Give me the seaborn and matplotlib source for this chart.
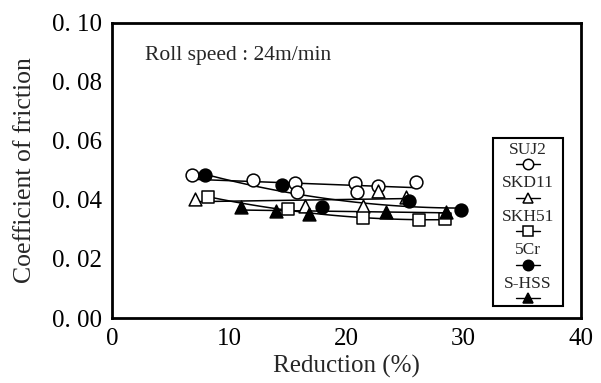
import matplotlib
matplotlib.use("Agg")
import matplotlib.pyplot as plt
import matplotlib.patches as mpatches
from matplotlib.lines import Line2D
import pandas as pd
import seaborn as sns

# Friction coefficient vs. reduction for each roll material
suj2_x = [6.8, 12.0, 15.6, 15.8, 20.7, 20.9, 22.7, 25.9]
suj2_y = [0.0485, 0.0467, 0.0458, 0.0428, 0.0458, 0.0427, 0.0449, 0.0462]

skd11_x = [7.1, 16.5, 21.4, 22.7, 25.1]
skd11_y = [0.0405, 0.0380, 0.0378, 0.0432, 0.0410]

skh51_x = [8.2, 15.0, 21.4, 26.2, 28.4]
skh51_y = [0.0410, 0.0368, 0.0338, 0.0332, 0.0335]

cr5_x = [7.9, 14.5, 17.9, 25.3, 29.8]
cr5_y = [0.0485, 0.0451, 0.0377, 0.0395, 0.0366]

shss_x = [11.0, 14.0, 16.8, 23.4, 28.5]
shss_y = [0.0375, 0.0362, 0.0352, 0.0360, 0.0360]

series_names = ["SUJ2", "SKD11", "SKH51", "5Cr", "S-HSS"]
x_ticks = [0, 10, 20, 30, 40]
y_ticks = [0.00, 0.02, 0.04, 0.06, 0.08, 0.10]
y_tick_labels = ["0. 00", "0. 02", "0. 04", "0. 06", "0. 08", "0. 10"]
note = "Roll speed : 24m/min"

sns.set_style("white")
plt.rcParams["font.family"] = ["Liberation Serif", "DejaVu Serif"]

styles = {
    "SUJ2": dict(marker="o", face="white"),
    "SKD11": dict(marker="^", face="white"),
    "SKH51": dict(marker="s", face="white"),
    "5Cr": dict(marker="o", face="black"),
    "S-HSS": dict(marker="^", face="black"),
}
data = {
    "SUJ2": (suj2_x, suj2_y),
    "SKD11": (skd11_x, skd11_y),
    "SKH51": (skh51_x, skh51_y),
    "5Cr": (cr5_x, cr5_y),
    "S-HSS": (shss_x, shss_y),
}
# polynomial order of each trend curve
fit_order = {"SUJ2": 1, "SKD11": 1, "SKH51": 2, "5Cr": 2, "S-HSS": 1}

fig = plt.figure(figsize=(6.01, 3.83), dpi=100)
ax = fig.add_axes([0.1864, 0.1697, 0.7803, 0.7703])

# trend lines first, then markers on top
for name in series_names:
    xs, ys = data[name]
    df = pd.DataFrame({"r": xs, "mu": ys})
    sns.regplot(data=df, x="r", y="mu", order=fit_order[name], ci=None,
                scatter=False, truncate=True, ax=ax,
                line_kws=dict(color="black", lw=1.1, zorder=2))

for name in series_names:
    xs, ys = data[name]
    df = pd.DataFrame({"r": xs, "mu": ys})
    st = styles[name]
    sns.scatterplot(data=df, x="r", y="mu", marker=st["marker"], s=85,
                    facecolor=st["face"], edgecolor="black", linewidth=1.1,
                    ax=ax, zorder=3, legend=False)

ax.set_xlim(0, 40)
ax.set_ylim(0, 0.10)
ax.set_xticks(x_ticks)
ax.set_xticks([5, 15, 25, 35], minor=True)
ax.set_yticks(y_ticks)
ax.set_yticklabels(y_tick_labels)
ax.tick_params(axis="both", which="both", direction="in", length=5, width=1.5,
               colors="black", labelsize=18)
ax.tick_params(axis="x", which="minor", length=4)
ax.tick_params(axis="x", which="major", pad=7)
ax.tick_params(axis="y", which="major", pad=7)
for sp in ax.spines.values():
    sp.set_linewidth(2)
    sp.set_color("black")

ax.set_xlabel("Reduction (%)", fontsize=18, labelpad=4)
ax.set_ylabel("Coefficient of friction", fontsize=18.5, labelpad=12)

ax.text(2.8, 0.089, note, fontsize=15.5, va="center", ha="left")

# legend panel: label above its marker sample
box = mpatches.Rectangle((0.812, 0.041), 0.150, 0.569, transform=ax.transAxes,
                         fill=False, edgecolor="black", lw=1.5, zorder=4)
ax.add_patch(box)
for i, name in enumerate(series_names):
    st = styles[name]
    ty = 0.570 - i * 0.1136
    my = ty - 0.048
    ax.text(0.887, ty, name, transform=ax.transAxes, ha="center", va="center",
            fontsize=12.5, zorder=5)
    ax.add_line(Line2D([0.862, 0.912], [my, my], transform=ax.transAxes,
                       color="black", lw=1.0, zorder=5))
    ax.add_line(Line2D([0.887], [my], transform=ax.transAxes, color="black",
                       lw=0, marker=st["marker"], markersize=7.5,
                       markerfacecolor=st["face"], markeredgecolor="black",
                       markeredgewidth=1.1, zorder=6))

fig.savefig("out.png", dpi=100)
